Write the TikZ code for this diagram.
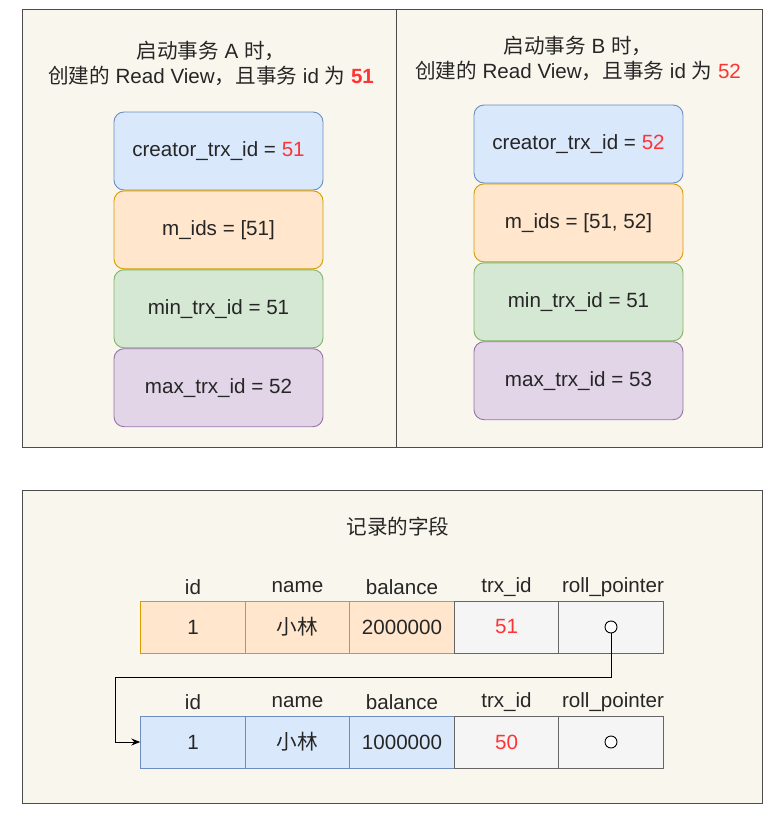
\documentclass[tikz,border=0pt]{standalone}
\usepackage{fontspec}
\setmainfont{Liberation Sans}
\newfontfamily\cjk{Noto Sans CJK SC}
\usetikzlibrary{arrows.meta,positioning}
\definecolor{panelbg}{HTML}{F9F7ED}
\definecolor{hot}{HTML}{FF3333}
\definecolor{bluef}{HTML}{DAE8FC}\definecolor{blued}{HTML}{6C8EBF}
\definecolor{orangef}{HTML}{FFE6CC}\definecolor{oranged}{HTML}{D79B00}
\definecolor{greenf}{HTML}{D5E8D4}\definecolor{greend}{HTML}{82B366}
\definecolor{purplef}{HTML}{E1D5E7}\definecolor{purpled}{HTML}{9673A6}
\definecolor{greyf}{HTML}{F5F5F5}\definecolor{greyd}{HTML}{666666}
\newcommand{\zh}[1]{{\cjk #1}}

\begin{document}
\begin{tikzpicture}[x=1pt,y=-1pt,font=\fontsize{20.6}{25}\selectfont,text=black!85,panel/.style={draw=black!70, line width=1pt, fill=panelbg},field/.style={draw, line width=0.9pt, rounded corners=10pt, minimum width=209pt, minimum height=78pt, inner sep=0pt},cell/.style={draw, line width=0.9pt, minimum width=104.5pt, minimum height=52pt, inner sep=0pt},head/.style={inner sep=0pt},arrow/.style={-{Stealth[length=9pt,width=7pt]}, line width=0.9pt}]
\useasboundingbox (0,0) rectangle (772,813);
% read views
\draw[panel] (22,10) rectangle (762,447);
\draw[black!70, line width=1pt] (396,10) -- (396,447);
\node[align=center] (titleA) at (211,63) {\zh{启动事务} A \zh{时，}\\\zh{创建的} Read View\zh{，且事务} id \zh{为} \textcolor{hot}{\textbf{51}}};
\node[field, fill=bluef, draw=blued] (creA) at (218.5,151) {creator\_trx\_id = \textcolor{hot}{51}};
\node[field, fill=orangef, draw=oranged, below=0pt of creA] (midsA) {m\_ids = [51]};
\node[field, fill=greenf, draw=greend, below=0pt of midsA] (minA) {min\_trx\_id = 51};
\node[field, fill=purplef, draw=purpled, below=0pt of minA] (maxA) {max\_trx\_id = 52};
\node[align=center] (titleB) at (578,58) {\zh{启动事务} B \zh{时，}\\\zh{创建的} Read View\zh{，且事务} id \zh{为} \textcolor{hot}{52}};
\node[field, fill=bluef, draw=blued] (creB) at (578.5,144) {creator\_trx\_id = \textcolor{hot}{52}};
\node[field, fill=orangef, draw=oranged, below=0pt of creB] (midsB) {m\_ids = [51, 52]};
\node[field, fill=greenf, draw=greend, below=0pt of midsB] (minB) {min\_trx\_id = 51};
\node[field, fill=purplef, draw=purpled, below=0pt of minB] (maxB) {max\_trx\_id = 53};
% record versions
\draw[panel] (22,490) rectangle (762,803);
\node (recTitle) at (398,527) {\zh{记录的字段}};
\foreach \y/\r in {587/1,702/2}{
  \node[head] (id\r) at (193,\y) {id};
  \node[head] (name\r) at (297.5,\y) {name};
  \node[head] (bal\r) at (402,\y) {balance};
  \node[head] (trx\r) at (506.5,\y) {trx\_id};
  \node[head] (roll\r) at (613,\y) {roll\_pointer};
}
\node[cell, fill=orangef, draw=oranged] (a1) at (193,627) {1};
\node[cell, fill=orangef, draw=oranged] (a2) at (297.5,627) {\zh{小林}};
\node[cell, fill=orangef, draw=oranged] (a3) at (402,627) {2000000};
\node[cell, fill=greyf, draw=greyd] (a4) at (506.5,627) {\textcolor{hot}{51}};
\node[cell, fill=greyf, draw=greyd] (a5) at (611,627) {};
\node[cell, fill=bluef, draw=blued] (b1) at (193,742) {1};
\node[cell, fill=bluef, draw=blued] (b2) at (297.5,742) {\zh{小林}};
\node[cell, fill=bluef, draw=blued] (b3) at (402,742) {1000000};
\node[cell, fill=greyf, draw=greyd] (b4) at (506.5,742) {\textcolor{hot}{50}};
\node[cell, fill=greyf, draw=greyd] (b5) at (611,742) {};
\node[circle, draw=black, fill=white, line width=0.9pt, minimum size=12pt, inner sep=0pt] (ptrA) at (a5) {};
\node[circle, draw=black, fill=white, line width=0.9pt, minimum size=12pt, inner sep=0pt] (ptrB) at (b5) {};
\coordinate (turn) at (115,677);
\draw[arrow] (ptrA.south) |- (turn) |- (b1.west);
\end{tikzpicture}
\end{document}
